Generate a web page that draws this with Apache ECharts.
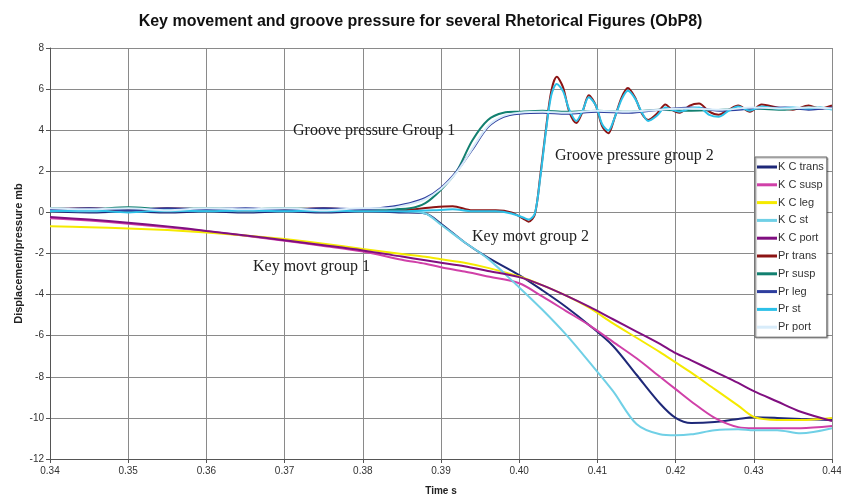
<!DOCTYPE html>
<html>
<head>
<meta charset="utf-8">
<script src="https://cdn.jsdelivr.net/npm/echarts@6/dist/echarts.min.js"></script>
<style>
  html, body { margin: 0; padding: 0; background: #fff; }
  #chart { width: 841px; height: 497px; }
</style>
</head>
<body>
<div id="chart"></div>
<script>
// Time samples (s) for the key channel (K C) traces
const tKey = [0.340,0.345,0.350,0.355,0.360,0.365,0.370,0.375,0.380,0.385,0.388,0.390,0.393,0.396,0.400,0.403,0.406,0.409,0.412,0.415,0.418,0.420,0.422,0.425,0.428,0.430,0.433,0.436,0.440];

// Key displacement (mb-scaled) per rhetorical figure
const kcTrans = [0.05,0.0,0.05,0.0,0.05,0.0,0.05,0.0,0.05,0.0,-0.05,-0.55,-1.45,-2.2,-3.05,-3.8,-4.6,-5.5,-6.5,-7.9,-9.3,-10.0,-10.25,-10.2,-10.05,-9.97,-10.0,-10.05,-10.1];
const kcSusp  = [-0.28,-0.4,-0.55,-0.72,-0.92,-1.14,-1.38,-1.63,-1.9,-2.3,-2.5,-2.67,-2.88,-3.12,-3.45,-4.1,-4.8,-5.5,-6.3,-7.1,-8.0,-8.6,-9.2,-10.0,-10.45,-10.5,-10.5,-10.5,-10.4];
const kcLeg   = [-0.68,-0.72,-0.78,-0.86,-0.98,-1.12,-1.3,-1.52,-1.78,-2.02,-2.16,-2.28,-2.45,-2.7,-3.12,-3.55,-4.05,-4.65,-5.4,-6.1,-6.8,-7.3,-7.8,-8.6,-9.4,-9.95,-10.1,-10.1,-10.0];
const kcSt    = [0.1,0.05,0.1,0.05,0.1,0.05,0.1,0.05,0.1,0.05,-0.05,-0.6,-1.45,-2.25,-3.65,-4.75,-5.95,-7.3,-8.7,-10.3,-10.8,-10.85,-10.8,-10.6,-10.55,-10.6,-10.6,-10.75,-10.5];
const kcPort  = [-0.22,-0.35,-0.5,-0.68,-0.9,-1.12,-1.36,-1.6,-1.85,-2.15,-2.33,-2.45,-2.62,-2.85,-3.15,-3.55,-4.05,-4.6,-5.2,-5.8,-6.4,-6.85,-7.2,-7.75,-8.3,-8.7,-9.2,-9.7,-10.15];

// Time samples for the early-rising groove pressure traces
const tPr1 = [0.340,0.345,0.350,0.355,0.360,0.365,0.370,0.375,0.380,0.383,0.386,0.388,0.390,0.392,0.394,0.396,0.398,0.400,0.403,0.406,0.410,0.414,0.418,0.422,0.426,0.430,0.434,0.437,0.440];
const prSusp = [0.2,0.15,0.25,0.15,0.2,0.15,0.2,0.15,0.15,0.15,0.2,0.45,1.1,2.0,3.5,4.5,4.85,4.9,4.95,4.9,4.95,4.9,5.0,4.95,5.0,5.05,5.0,5.1,5.05];
const prLeg  = [0.15,0.2,0.1,0.2,0.15,0.2,0.1,0.2,0.15,0.25,0.45,0.7,1.2,2.0,3.05,4.15,4.65,4.8,4.85,4.8,4.9,4.85,5.0,5.1,4.95,5.05,5.1,5.0,5.1];
const prPort = [0.2,0.15,0.2,0.1,0.2,0.15,0.2,0.1,0.2,0.2,0.4,0.65,1.15,1.95,3.1,4.2,4.7,4.85,4.9,4.85,4.95,4.9,5.0,5.05,5.0,5.1,5.05,5.1,5.05];

// Time samples for the late, oscillating groove pressure traces
const tPr2 = [0.340,0.345,0.350,0.355,0.360,0.365,0.370,0.375,0.380,0.385,0.389,0.3915,0.394,0.397,0.399,0.4005,0.4012,0.4020,0.4027,0.4034,0.4041,0.4048,0.4056,0.4064,0.4073,0.4081,0.4089,0.4098,0.4106,0.4114,0.4122,0.4131,0.4139,0.4148,0.4157,0.4165,0.4176,0.4187,0.4195,0.4205,0.4218,0.4230,0.4243,0.4255,0.4268,0.4280,0.4295,0.4310,0.4330,0.4350,0.4370,0.4385,0.4400];
const prTrans = [0.15,0.2,0.1,0.2,0.15,0.1,0.15,0.2,0.1,0.1,0.25,0.3,0.1,0.1,0.0,-0.3,-0.45,-0.1,1.8,4.0,5.9,6.6,6.1,4.9,4.35,4.9,5.7,5.2,4.2,3.85,4.6,5.6,6.05,5.6,4.8,4.5,4.8,5.25,5.0,4.85,5.2,5.3,4.9,4.75,5.0,5.2,4.9,5.25,5.1,5.0,5.2,5.05,5.2];
const prSt    = [0.05,0.1,0.0,0.1,0.05,0.1,0.05,0.1,0.05,0.05,0.1,0.15,0.05,0.05,-0.05,-0.25,-0.35,-0.05,1.7,3.9,5.7,6.25,5.9,5.0,4.45,4.95,5.6,5.2,4.3,3.98,4.6,5.5,5.92,5.55,4.85,4.45,4.7,5.1,5.0,4.9,5.05,5.1,4.75,4.65,4.95,5.15,4.95,5.15,5.05,5.1,5.05,5.1,5.0];

// Axis ranges and tick steps
const xMin = 0.34, xMax = 0.44, xStep = 0.01;
const yMin = -12, yMax = 8, yStep = 2;

const seriesDefs = [
  { name: 'K C trans', t: tKey, v: kcTrans, color: '#1e2878' },
  { name: 'K C susp',  t: tKey, v: kcSusp,  color: '#d040a8' },
  { name: 'K C leg',   t: tKey, v: kcLeg,   color: '#f5ea00' },
  { name: 'K C st',    t: tKey, v: kcSt,    color: '#70d0e6' },
  { name: 'K C port',  t: tKey, v: kcPort,  color: '#800f80' },
  { name: 'Pr trans',  t: tPr2, v: prTrans, color: '#8c1414' },
  { name: 'Pr susp',   t: tPr1, v: prSusp,  color: '#128070' },
  { name: 'Pr leg',    t: tPr1, v: prLeg,   color: '#2e3e9e' },
  { name: 'Pr st',     t: tPr2, v: prSt,    color: '#2cc0e8' },
  { name: 'Pr port',   t: tPr1, v: prPort,  color: '#d8ecfa' }
];

const serifFont = '"Liberation Serif", "Times New Roman", serif';
const sansFont = '"Liberation Sans", Arial, sans-serif';

function note(text, x, y) {
  return {
    type: 'text', left: x, top: y, z: 50,
    style: { text: text, font: '16px ' + serifFont, fill: '#222' }
  };
}

const chart = echarts.init(document.getElementById('chart'), null, { renderer: 'canvas' });
chart.setOption({
  animation: false,
  backgroundColor: '#fff',
  title: {
    text: 'Key movement and groove pressure for several Rhetorical Figures (ObP8)',
    left: 'center', top: 9,
    textStyle: { fontFamily: sansFont, fontSize: 16, fontWeight: 'bold', color: '#111' }
  },
  grid: { left: 50, right: 9, top: 48, bottom: 38, outerBoundsMode: 'none', containLabel: false },
  legend: {
    orient: 'vertical', left: 755, top: 157,
    padding: [4, 3, 4, 2],
    icon: 'rect',
    itemWidth: 20, itemHeight: 3, itemGap: 5.8,
    backgroundColor: '#fff', borderColor: '#666', borderWidth: 1,
    shadowColor: 'rgba(0,0,0,0.35)', shadowOffsetX: 1, shadowOffsetY: 1, shadowBlur: 1,
    textStyle: { fontFamily: sansFont, fontSize: 11, color: '#333', lineHeight: 12, padding: [0, 0, 0, -4] },
    data: seriesDefs.map(s => s.name)
  },
  xAxis: {
    type: 'value', min: xMin, max: xMax, interval: xStep,
    name: 'Time s', nameLocation: 'middle', nameGap: 27,
    nameTextStyle: { fontFamily: sansFont, fontSize: 10, fontWeight: 'bold', color: '#222' },
    axisLine: { show: true, onZero: false, lineStyle: { color: '#555', width: 1 } },
    axisTick: { show: true, length: 4, lineStyle: { color: '#555' } },
    axisLabel: { fontFamily: sansFont, fontSize: 10, color: '#333', margin: 7,
                 formatter: v => v.toFixed(2) },
    splitLine: { show: true, lineStyle: { color: '#8a8a8a', width: 1 } }
  },
  yAxis: {
    type: 'value', min: yMin, max: yMax, interval: yStep,
    name: 'Displacement/pressure mb', nameLocation: 'middle', nameGap: 26,
    nameMoveOverlap: false,
    nameTextStyle: { fontFamily: sansFont, fontSize: 11, fontWeight: 'bold', color: '#222' },
    axisLine: { show: true, lineStyle: { color: '#555', width: 1 } },
    axisTick: { show: true, length: 4, lineStyle: { color: '#555' } },
    axisLabel: { fontFamily: sansFont, fontSize: 10, color: '#333', margin: 6 },
    splitLine: { show: true, lineStyle: { color: '#8a8a8a', width: 1 } }
  },
  graphic: [
    note('Groove pressure Group 1', 293, 123),
    note('Groove pressure group 2', 555, 148),
    note('Key movt group 2', 472, 229),
    note('Key movt group 1', 253, 259)
  ],
  series: seriesDefs.map(s => ({
    name: s.name,
    type: 'line',
    data: s.t.map((t, i) => [t, s.v[i]]),
    symbol: 'none',
    smooth: 0.3,
    color: s.color,
    lineStyle: { color: s.color, width: 2 }
  }))
});
</script>
</body>
</html>
